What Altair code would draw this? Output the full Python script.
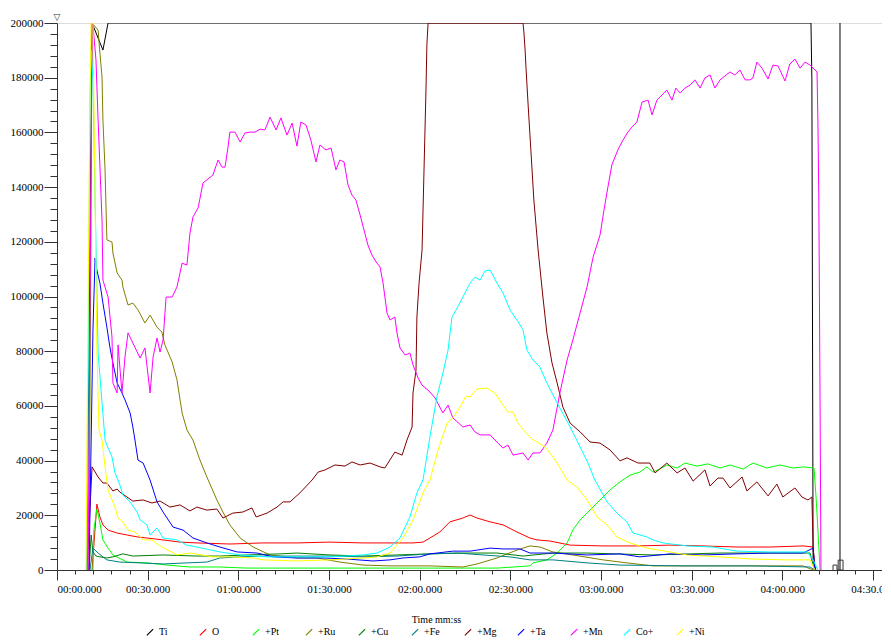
import altair as alt
import pandas as pd

SERIES = ["Ti", "O", "+Pt", "+Ru", "+Cu", "+Fe", "+Mg", "+Ta", "+Mn", "Co+", "+Ni"]
COLORS = ["#000000", "#ff0000", "#00ff00", "#808000", "#008000", "#008080",
          "#800000", "#0000ff", "#ff00ff", "#00ffff", "#ffff00"]

# time in seconds, intensity in counts
ti_t = [9.9, 11.6, 15.2, 16.9, 249.5, 249.8, 250.2, 251.1]
ti_v = [0, 200000, 190100, 200000, 200000, 179200, 3700, 0]

o_t = [11.6, 13.2, 14.2, 15.2, 16.9, 19.9, 23.2, 26.5, 29.8, 35.1, 40.7, 46.3, 57.2, 68.2, 79.4,
       90.3, 101.3, 112.5, 117.8, 121.1, 123.4, 126.7, 130.0, 134.3, 136.7, 139.0, 143.3, 147.6,
       152.2, 156.5, 158.8, 163.1, 169.8, 180.7, 191.9, 202.8, 213.8, 225.0, 235.9, 246.9, 250.2, 250.8]
o_v = [0, 24100, 19400, 16500, 14600, 13500, 12800, 12100, 11700, 11000, 10200, 9900, 9500, 9900, 9900,
       10200, 9900, 9900, 9900, 10200, 11700, 13900, 17600, 19000, 20100, 19000, 17600, 16500,
       13900, 11700, 11000, 10600, 9100, 8800, 8800, 9100, 8800, 8400, 8400, 8800, 8400, 0]

pt_t = [11.9, 12.2, 13.2, 14.2, 15.2, 16.9, 18.5, 23.2, 29.8, 36.4, 44.0, 53.9, 62.9, 80.4, 113.5,
        145.6, 156.5, 157.5, 162.1, 165.5, 168.8, 170.7, 173.1, 176.4, 179.7, 183.0, 186.3, 189.6,
        192.9, 195.2, 197.2, 199.5, 201.8, 205.2, 207.8, 211.8, 215.4, 219.4, 222.7, 227.0, 230.3,
        234.9, 239.2, 243.5, 246.9, 250.5, 251.2, 251.8, 252.5]
pt_v = [0, 14600, 22300, 17200, 11000, 8000, 5500, 2900, 2600, 1800, 1100, 1100, 700, 700, 700,
        700, 1500, 2600, 3700, 6200, 9900, 14600, 18300, 21900, 25600, 29300, 32200, 34700,
        35800, 37700, 35800, 36900, 38400, 37300, 39100, 38000, 38800, 37300, 38400, 36900, 39100,
        37300, 38400, 37300, 37700, 37300, 26300, 14600, 0]

ru_t = [10.6, 11.6, 13.6, 14.2, 14.9, 15.2, 15.9, 16.5, 18.2, 18.5, 19.9, 21.5, 21.8, 23.5, 25.1,
        26.8, 29.1, 30.8, 33.1, 34.7, 35.7, 38.1, 39.7, 41.4, 43.0, 45.0, 47.3, 49.6, 52.9, 54.9,
        57.2, 60.6, 64.9, 70.5, 79.4, 86.0, 93.6, 101.3, 110.2, 123.4, 134.3, 139.0, 145.6, 152.2,
        156.5, 159.8, 164.1, 170.7, 180.7, 188.6, 197.2, 219.4, 246.9, 250.2]
ru_v = [0, 200000, 197400, 189000, 180300, 164500, 146300, 120700, 119900, 115900, 108600, 106000,
        103500, 96900, 97600, 95100, 90300, 93200, 88800, 87000, 82300, 76100, 69500, 57400, 51200,
        47500, 40200, 34000, 25600, 21200, 16500, 11700, 8400, 5500, 4400, 4400, 2900, 1800, 1500,
        1500, 1100, 2200, 4400, 7300, 8800, 8400, 6600, 5500, 3700, 2600, 1500, 1500, 1500, 0]

cu_t = [10.6, 11.3, 11.9, 12.9, 14.2, 16.5, 18.5, 21.8, 25.1, 35.1, 46.3, 53.9, 62.9, 73.8, 79.4,
        90.3, 101.3, 112.5, 123.4, 134.3, 145.6, 154.2, 164.1, 175.4, 197.2, 219.4, 241.6, 249.2,
        250.2, 250.8]
cu_v = [0, 12800, 6600, 5100, 4800, 4400, 4800, 5900, 5100, 5500, 5100, 5100, 5500, 5900, 6200,
        5500, 5100, 5500, 5900, 6200, 6200, 5100, 6200, 6200, 5500, 6200, 6200, 6200, 1800, 0]

fe_t = [10.9, 11.9, 13.6, 16.5, 20.8, 27.5, 35.1, 43.0, 49.6, 53.9, 60.6, 68.2, 79.4, 90.3, 101.3,
        112.5, 123.4, 132.4, 141.0, 149.9, 156.5, 164.1, 175.4, 186.3, 208.5, 230.3, 249.2, 250.8]
fe_v = [0, 8000, 6200, 3700, 2900, 2600, 2200, 2600, 2900, 4400, 4800, 5100, 5100, 5100, 4800,
        5100, 5900, 6200, 5500, 4800, 3700, 3700, 2600, 1800, 1500, 1500, 1100, 0]

mg_t = [9.9, 11.6, 13.6, 15.2, 16.5, 18.5, 19.9, 20.8, 25.1, 28.5, 31.4, 34.1, 37.4, 40.7, 44.0,
        46.3, 49.6, 52.9, 54.9, 58.2, 61.5, 64.5, 65.9, 69.5, 72.8, 74.8, 77.1, 80.4, 84.4, 86.4,
        88.7, 92.0, 95.3, 97.6, 100.3, 103.6, 106.9, 108.5, 111.8, 114.2, 115.8, 117.5, 117.8,
        118.8, 119.1, 119.8, 120.8, 122.1, 122.4, 122.8, 154.2, 154.5, 154.9, 155.2, 155.9, 156.8,
        157.8, 159.2, 160.8, 162.1, 163.8, 165.5, 167.4, 169.8, 173.1, 176.4, 179.7, 183.0, 186.3,
        188.6, 192.3, 196.2, 197.9, 201.8, 205.2, 207.8, 210.5, 214.4, 216.1, 218.7, 220.4, 222.7,
        226.7, 228.3, 231.6, 235.3, 238.2, 240.2, 244.2, 246.5, 248.5, 249.8, 250.2, 250.8]
mg_v = [0, 37700, 34000, 31800, 31800, 28900, 29600, 28500, 25200, 25600, 24500, 25200, 23000,
        23800, 21600, 23000, 21900, 22300, 19000, 20800, 21200, 22700, 19400, 20800, 23000, 24900,
        24900, 28200, 32900, 35800, 36600, 38400, 38000, 39500, 38400, 39100, 37700, 37300, 43100,
        42000, 47500, 52300, 64700, 73100, 92500, 104900, 117000, 175500, 192000, 200000, 200000,
        196700, 190100, 183500, 170000, 153600, 135300, 117000, 99800, 86700, 75700, 68400, 59600,
        53700, 50500, 46800, 46400, 43900, 39900, 41000, 39100, 39100, 35500, 39100, 35500, 37300,
        32500, 36600, 30700, 33600, 33600, 30000, 34000, 28900, 32200, 27100, 31400, 26700, 30000,
        26700, 25600, 26700, 8400, 0]

ta_t = [10.6, 11.9, 12.6, 13.2, 14.2, 15.2, 16.5, 17.5, 18.5, 19.9, 21.5, 22.5, 24.2, 25.1, 25.8,
        26.8, 28.5, 30.8, 33.1, 35.1, 38.4, 41.7, 45.0, 49.6, 53.9, 59.6, 66.2, 71.5, 79.4, 88.0,
        96.0, 104.6, 110.2, 114.5, 120.1, 123.4, 131.0, 136.7, 143.3, 147.6, 153.2, 156.5, 164.1,
        175.4, 186.3, 192.9, 202.8, 213.8, 225.0, 235.9, 246.9, 250.2, 250.8]
ta_v = [0, 87800, 114100, 109700, 104900, 97600, 88800, 81500, 75700, 68400, 64700, 62200, 57400,
        52300, 47500, 40200, 39100, 32900, 24900, 21200, 15700, 14600, 11700, 9900, 8400, 6600,
        6200, 4800, 4400, 4400, 4000, 3300, 3700, 4400, 4800, 5900, 6900, 6900, 8000, 7700, 7700,
        6200, 6200, 5500, 5900, 4800, 5900, 5500, 5900, 6200, 6200, 8000, 0]

mn_t = [10.3, 11.6, 11.9, 12.9, 13.6, 14.9, 15.2, 16.9, 18.2, 18.5, 19.9, 20.2, 20.8, 21.5, 22.5,
        23.5, 25.1, 27.5, 29.1, 30.8, 31.8, 33.1, 34.1, 35.1, 36.1, 38.1, 39.7, 41.4, 43.0, 44.0,
        45.0, 46.7, 48.3, 51.6, 53.3, 54.6, 55.6, 56.6, 57.2, 58.9, 60.6, 62.2, 63.9, 65.5, 67.2,
        68.8, 70.5, 72.5, 74.1, 76.1, 77.8, 79.4, 80.7, 82.4, 84.0, 85.7, 87.0, 89.0, 90.7, 92.3,
        93.6, 95.0, 96.3, 97.6, 98.9, 100.3, 101.6, 102.9, 104.2, 105.6, 106.9, 107.9, 109.2,
        110.2, 111.8, 112.5, 113.5, 115.2, 116.8, 117.8, 119.5, 120.8, 123.4, 125.1, 127.7, 129.4,
        131.0, 134.3, 136.7, 138.3, 140.0, 143.3, 145.9, 147.6, 149.2, 150.9, 154.2, 155.9, 157.5,
        159.8, 162.1, 164.1, 166.4, 168.8, 170.7, 173.1, 175.4, 177.4, 179.7, 181.0, 182.3, 183.6,
        185.6, 187.3, 188.9, 190.3, 191.9, 193.6, 195.6, 196.9, 198.5, 200.2, 201.8, 203.5, 204.8,
        206.2, 207.8, 209.5, 211.1, 212.8, 214.4, 216.1, 217.7, 219.4, 221.0, 222.7, 224.3, 226.0,
        227.7, 229.3, 230.3, 231.6, 233.3, 235.3, 236.9, 238.6, 240.9, 242.5, 244.2, 245.9, 247.5,
        249.2, 251.5, 251.8, 252.1, 252.5, 252.8]
mn_v = [0, 200000, 199300, 186500, 164500, 128000, 106000, 99800, 85200, 68400, 64700, 82300,
        74200, 64700, 77900, 86700, 83000, 77500, 81200, 64700, 77900, 84800, 79700, 84100, 99800,
        99800, 103500, 112200, 111500, 123200, 129100, 132400, 141500, 144400, 149900, 147300,
        147300, 154700, 160100, 160100, 156500, 159800, 160100, 160100, 161200, 160900, 165600,
        160900, 165300, 159000, 163400, 155000, 163800, 162700, 157200, 149200, 155400, 153600,
        154300, 146300, 149900, 149200, 140800, 137100, 135300, 129800, 124300, 118800, 115200,
        112600, 110800, 104900, 94000, 91400, 92500, 86700, 81200, 78600, 79300, 75000, 70200,
        67600, 65100, 62900, 57400, 60300, 55600, 52300, 53000, 50500, 49400, 49400, 46400, 44600,
        45700, 42000, 42800, 40200, 42800, 42800, 46400, 51200, 64700, 76800, 84100, 94000, 103500,
        114400, 122500, 131600, 140000, 148100, 153600, 157200, 160100, 162000, 163800, 171100,
        171800, 166400, 171800, 173700, 175500, 171800, 176200, 174400, 176200, 177300, 179200,
        176200, 179900, 181000, 176200, 179200, 180600, 182100, 181000, 182800, 179200, 179200,
        179900, 185700, 183500, 179500, 184600, 184300, 178800, 185000, 186800, 183500, 185700,
        184600, 182100, 163800, 135300, 62200, 0]

co_t = [9.9, 10.9, 11.3, 11.9, 12.6, 13.2, 13.6, 14.9, 15.9, 16.5, 18.2, 19.2, 20.8, 21.8, 24.2,
        26.5, 27.5, 29.8, 30.8, 33.1, 35.1, 39.7, 43.0, 46.3, 53.9, 60.6, 69.5, 73.8, 90.3, 101.3,
        105.9, 110.2, 113.5, 116.8, 119.1, 121.1, 123.4, 125.7, 127.7, 129.4, 130.7, 132.4, 134.3,
        136.7, 138.3, 140.0, 141.6, 143.3, 145.6, 147.6, 149.9, 152.2, 154.2, 155.5, 157.5, 159.8,
        162.1, 165.5, 169.8, 173.1, 175.7, 178.0, 182.0, 185.3, 188.6, 190.6, 195.2, 197.2, 200.5,
        208.5, 217.1, 225.0, 235.9, 248.2, 250.2, 251.8]
co_v = [0, 171800, 190100, 179200, 135300, 103500, 79300, 61100, 47500, 45700, 41300, 35500,
        31100, 27400, 24900, 21200, 18300, 16500, 12800, 15400, 11700, 11000, 9100, 8400, 6600,
        5500, 4800, 4800, 4800, 5500, 6200, 8400, 11700, 19400, 28200, 32900, 48600, 63300, 72000,
        80400, 92500, 95800, 99800, 104900, 107100, 106000, 109300, 109700, 104900, 101300, 95100,
        91400, 87800, 80400, 76800, 74200, 68400, 61100, 52300, 45000, 39100, 32900, 24900, 20800,
        17600, 13500, 12100, 11000, 9900, 8800, 8400, 6900, 6600, 6600, 3700, 0]

ni_t = [9.6, 10.3, 10.9, 11.3, 11.9, 12.6, 13.2, 13.9, 14.9, 15.9, 16.9, 18.2, 19.2, 20.2, 21.8,
        23.5, 25.8, 28.5, 31.4, 34.1, 39.7, 44.0, 51.6, 57.2, 64.9, 68.2, 79.4, 90.3, 101.3, 105.9,
        110.2, 114.5, 117.8, 121.1, 123.4, 126.1, 129.1, 131.0, 133.4, 135.3, 136.7, 139.0, 142.3,
        144.9, 147.6, 149.2, 150.9, 152.5, 154.9, 157.2, 158.8, 161.5, 163.1, 165.5, 168.8, 172.1,
        175.4, 178.7, 182.0, 185.3, 189.6, 195.2, 202.8, 208.5, 219.4, 230.3, 241.6, 249.2, 250.8]
ni_v = [0, 98700, 171800, 200000, 200000, 135300, 80400, 51200, 47500, 37700, 29300, 25600, 23000,
        19000, 17600, 14600, 13900, 11000, 11000, 8800, 5500, 6200, 4800, 4800, 4400, 3700, 3300,
        3700, 4400, 4800, 6200, 11700, 18300, 28200, 32900, 43900, 53700, 55600, 59600, 63600,
        63300, 66200, 66500, 64700, 60300, 57800, 57800, 53700, 50500, 47900, 46800, 45000, 42800,
        39100, 32900, 30300, 25600, 19400, 16500, 12100, 9900, 8000, 6600, 5500, 4800, 4000, 3700,
        3700, 0]

# end-of-run marker
marker_t = [259.1]
marker_box_t = [256.8, 256.8, 258.1, 258.1, 258.5, 258.5, 260.1, 260.1, 258.5]
marker_box_v = [0, 1800, 1800, 0, 0, 3600, 3600, 0, 0]

X_MAJOR = [0, 30, 60, 90, 120, 150, 180, 210, 240, 270]
X_MINOR = [s for s in range(0, 274, 6) if s % 30 != 0]
Y_MAJOR = list(range(0, 200001, 20000))
Y_MINOR = [v for v in range(0, 200001, 4000) if v % 20000 != 0]

data = [ti_t, ti_v, o_t, o_v, pt_t, pt_v, ru_t, ru_v, cu_t, cu_v, fe_t, fe_v,
        mg_t, mg_v, ta_t, ta_v, mn_t, mn_v, co_t, co_v, ni_t, ni_v]
rows = []
for k, name in enumerate(SERIES):
    ts, vs = data[2 * k], data[2 * k + 1]
    for i, (t, v) in enumerate(zip(ts, vs)):
        rows.append({"series": name, "t": t, "v": v, "i": i})
df = pd.DataFrame(rows)

FONT = "Liberation Serif"
xscale = alt.Scale(domain=[0, 273], nice=False, zero=False)
yscale = alt.Scale(domain=[0, 200000], nice=False, zero=False)

label_expr = ("(floor(datum.value/60) < 10 ? '0' : '') + floor(datum.value/60) + ':' + "
              "(datum.value % 60 < 10 ? '0' : '') + (datum.value % 60) + '.000'")

x_major_axis = alt.Axis(values=X_MAJOR, labelExpr=label_expr, tickSize=10, labelPadding=3,
                        labelFont=FONT, labelFontSize=11, labelColor="#000",
                        domainColor="#333", tickColor="#333", grid=False,
                        title="Time mm:ss", titleFont=FONT, titleFontSize=10,
                        titleFontWeight="normal", titleX=379, titleY=49,
                        titleAlign="center", titleBaseline="middle", titleColor="#000")
y_major_axis = alt.Axis(values=Y_MAJOR, format="d", tickSize=13, labelPadding=1,
                        labelFont=FONT, labelFontSize=11, labelColor="#000",
                        domainColor="#333", tickColor="#333", grid=False, title=None)
x_minor_axis = alt.Axis(values=X_MINOR, labels=False, tickSize=4, domain=False,
                        tickColor="#333", grid=False, title=None, orient="bottom")
y_minor_axis = alt.Axis(values=Y_MINOR, labels=False, tickSize=7, domain=False,
                        tickColor="#333", grid=False, title=None, orient="left")

lines = alt.Chart(df).mark_line(strokeWidth=1, clip=True).encode(
    x=alt.X("t:Q", scale=xscale, axis=x_major_axis),
    y=alt.Y("v:Q", scale=yscale, axis=y_major_axis),
    color=alt.Color("series:N", scale=alt.Scale(domain=SERIES, range=COLORS),
                    legend=alt.Legend(orient="none", legendX=88, legendY=604,
                                      direction="horizontal", columns=11, title=None,
                                      symbolType="M-1,1L1,-1", symbolSize=40,
                                      symbolStrokeWidth=1.2, labelFont=FONT,
                                      labelFontSize=10, labelOffset=4,
                                      columnPadding=18, gridAlign="all",
                                      labelColor="#000")),
    order="i:Q",
)

mk_df = pd.DataFrame({"t": marker_t, "y0": [0], "y1": [200000]})
marker_rule = alt.Chart(mk_df).mark_rule(color="#000", strokeWidth=1).encode(
    x=alt.X("t:Q", scale=xscale, axis=x_minor_axis),
    y=alt.Y("y0:Q", scale=yscale, axis=y_minor_axis),
    y2="y1:Q",
)

box_df = pd.DataFrame({"t": marker_box_t, "v": marker_box_v,
                       "i": list(range(len(marker_box_t)))})
marker_box = alt.Chart(box_df).mark_line(color="#333", strokeWidth=1).encode(
    x=alt.X("t:Q", scale=xscale, axis=None),
    y=alt.Y("v:Q", scale=yscale, axis=None),
    order="i:Q",
)

tri_df = pd.DataFrame({"t": [0], "v": [200000], "s": ["▽"]})
tri = alt.Chart(tri_df).mark_text(font="DejaVu Sans", fontSize=9, dy=-6, color="#333").encode(
    x=alt.X("t:Q", scale=xscale, axis=None),
    y=alt.Y("v:Q", scale=yscale, axis=None),
    text="s:N",
)

chart = alt.layer(lines, marker_rule, marker_box, tri).resolve_axis(
    x="independent", y="independent"
).properties(
    width=825, height=547,
    padding={"left": 49, "top": 15, "right": 0, "bottom": 71},
    autosize=alt.AutoSizeParams(type="none"),
).configure_view(stroke=None).configure(background="white")

chart.save("out.html", embed_options={"renderer": "svg", "actions": False})
